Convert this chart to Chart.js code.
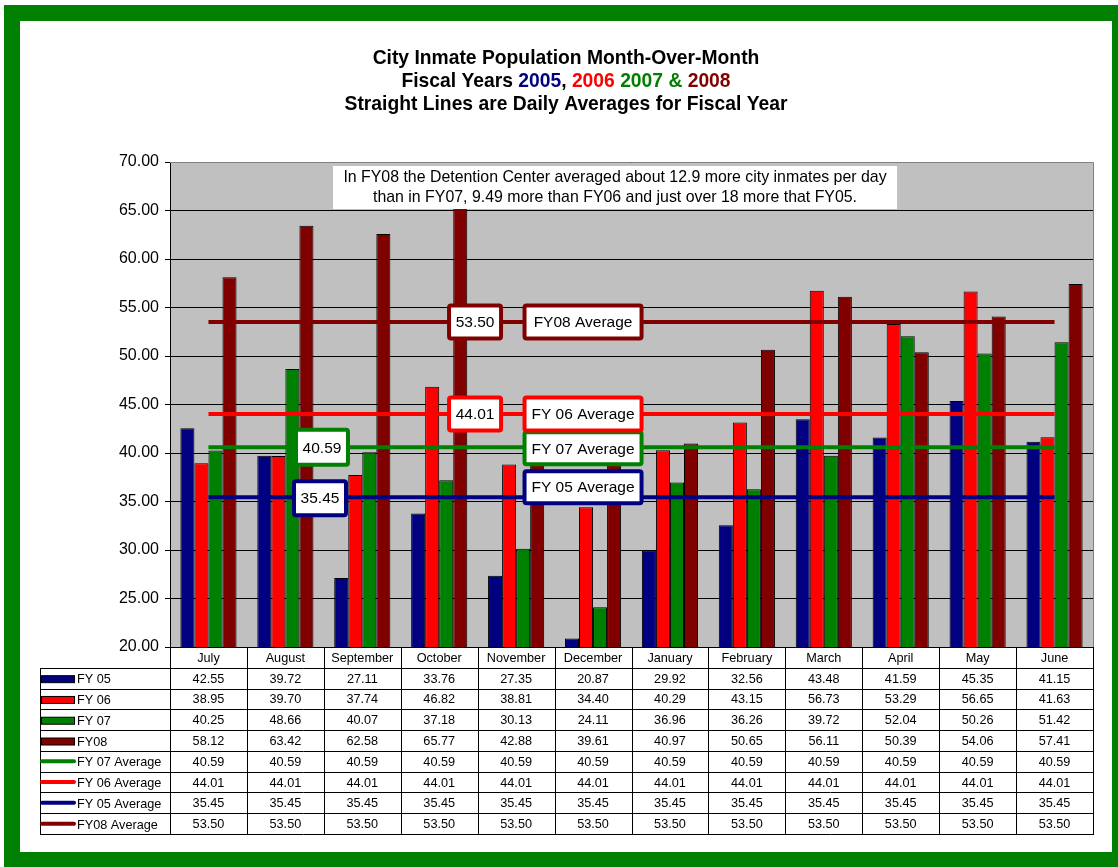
<!DOCTYPE html>
<html><head><meta charset="utf-8">
<script src="https://cdn.jsdelivr.net/npm/chart.js@4.4.0/dist/chart.umd.min.js"></script>
<style>html,body{margin:0;padding:0;background:#fff;overflow:hidden}#wrap{position:absolute;left:0;top:0;width:1118px;height:867px}</style>
</head><body><div id="wrap"><canvas id="c" width="1118" height="867"></canvas></div>
<script>
const months = ['July','August','September','October','November','December','January','February','March','April','May','June'];
const fy05 = [42.55,39.72,27.11,33.76,27.35,20.87,29.92,32.56,43.48,41.59,45.35,41.15];
const fy06 = [38.95,39.70,37.74,46.82,38.81,34.40,40.29,43.15,56.73,53.29,56.65,41.63];
const fy07 = [40.25,48.66,40.07,37.18,30.13,24.11,36.96,36.26,39.72,52.04,50.26,51.42];
const fy08 = [58.12,63.42,62.58,65.77,42.88,39.61,40.97,50.65,56.11,50.39,54.06,57.41];
const avg07 = [40.59,40.59,40.59,40.59,40.59,40.59,40.59,40.59,40.59,40.59,40.59,40.59];
const avg06 = [44.01,44.01,44.01,44.01,44.01,44.01,44.01,44.01,44.01,44.01,44.01,44.01];
const avg05 = [35.45,35.45,35.45,35.45,35.45,35.45,35.45,35.45,35.45,35.45,35.45,35.45];
const avg08 = [53.50,53.50,53.50,53.50,53.50,53.50,53.50,53.50,53.50,53.50,53.50,53.50];
const yTicks = {min:20, max:70, step:5};
const noteLines = ['In FY08 the Detention Center averaged about 12.9 more city inmates per day','than in FY07, 9.49 more than FY06 and just over 18 more that FY05.'];

const NAVY='#000080', RED='#ff0000', GREEN='#008000', MAROON='#800000';
const FONT='"Liberation Sans", Arial, Helvetica, sans-serif';

function barDs(label,data,color){return {type:'bar',label,data,backgroundColor:color,borderColor:'#000',borderWidth:1,borderSkipped:false,order:2,categoryPercentage:0.73,barPercentage:1};}
function lineDs(label,data,color){return {type:'line',label,data,borderColor:color,backgroundColor:color,borderWidth:4,pointRadius:0,fill:false,tension:0,order:1,isAvg:true};}

function drawBox(ctx,cx,cy,w,h,color,text){
  ctx.save();
  ctx.fillStyle='#fff';ctx.strokeStyle=color;ctx.lineWidth=4;
  ctx.beginPath();ctx.roundRect(cx-w/2+2,cy-h/2+2,w-4,h-4,2);ctx.fill();ctx.stroke();
  ctx.fillStyle='#000';ctx.font='15.5px '+FONT;ctx.textAlign='center';ctx.textBaseline='middle';
  ctx.fillText(text,cx,cy+1);
  ctx.restore();
}

const decor = {
  id:'decor',
  beforeDraw(chart){
    const ctx=chart.ctx,a=chart.chartArea;
    ctx.save();
    ctx.fillStyle='#fff';ctx.fillRect(0,0,1118,867);
    ctx.fillStyle=GREEN;ctx.fillRect(4,5,1120,870);
    ctx.fillStyle='#fff';ctx.fillRect(20,21,1092,831);
    ctx.fillStyle='#c0c0c0';ctx.fillRect(a.left,a.top,a.right-a.left,a.bottom-a.top);
    // title
    ctx.font='bold 19.3px '+FONT;ctx.textBaseline='middle';ctx.textAlign='center';ctx.fillStyle='#000';
    const cx=566;
    ctx.fillText('City Inmate Population Month-Over-Month',cx,59);
    const segs=[['Fiscal Years ','#000'],['2005',NAVY],[', ','#000'],['2006',RED],[' ','#000'],['2007 &',GREEN],[' 2008',MAROON]];
    let tot=segs.reduce((s,g)=>s+ctx.measureText(g[0]).width,0);
    let x=cx-tot/2;ctx.textAlign='left';
    for(const [t,c] of segs){ctx.fillStyle=c;ctx.fillText(t,x,82);x+=ctx.measureText(t).width;}
    ctx.textAlign='center';ctx.fillStyle='#000';
    ctx.fillText('Straight Lines are Daily Averages for Fiscal Year',cx,104.5);
    ctx.restore();
  },
  afterDatasetsDraw(chart){
    const ctx=chart.ctx,a=chart.chartArea,xs=chart.scales.x,ys=chart.scales.y;
    ctx.save();
    // note box
    ctx.fillStyle='#fff';ctx.fillRect(a.left+163,a.top+4,564,43);
    ctx.fillStyle='#000';ctx.font='15.9px '+FONT;ctx.textAlign='center';ctx.textBaseline='middle';
    ctx.fillText(noteLines[0],a.left+445,a.top+15.5);
    ctx.fillText(noteLines[1],a.left+445,a.top+35.5);
    ctx.restore();
    const lx=xs.getPixelForValue(4.87);
    // FY07
    drawBox(ctx,xs.getPixelForValue(1.476),ys.getPixelForValue(avg07[0]),56,39,GREEN,avg07[0].toFixed(2));
    drawBox(ctx,lx,ys.getPixelForValue(avg07[0])+1,121,36,GREEN,'FY 07 Average');
    // FY06
    drawBox(ctx,xs.getPixelForValue(3.466),ys.getPixelForValue(avg06[0]),56,37,RED,avg06[0].toFixed(2));
    drawBox(ctx,lx,ys.getPixelForValue(avg06[0]),121,37,RED,'FY 06 Average');
    // FY05
    drawBox(ctx,xs.getPixelForValue(1.45),ys.getPixelForValue(avg05[0])+1,56,38,NAVY,avg05[0].toFixed(2));
    drawBox(ctx,lx,ys.getPixelForValue(avg05[0])-10,121,36,NAVY,'FY 05 Average');
    // FY08
    drawBox(ctx,xs.getPixelForValue(3.466),ys.getPixelForValue(avg08[0]),56,37,MAROON,avg08[0].toFixed(2));
    drawBox(ctx,lx,ys.getPixelForValue(avg08[0]),121,37,MAROON,'FY08 Average');
  },
  afterDraw(chart){
    const ctx=chart.ctx,a=chart.chartArea;
    ctx.save();
    // plot border (top/right gray)
    ctx.strokeStyle='#808080';ctx.lineWidth=1;
    ctx.beginPath();ctx.moveTo(a.left,Math.round(a.top)+0.5);ctx.lineTo(Math.round(a.right)+0.5,Math.round(a.top)+0.5);ctx.lineTo(Math.round(a.right)+0.5,a.bottom);ctx.stroke();
    // data table
    const n=months.length,cw=(a.right-a.left)/n,rowH=20.78,top=a.bottom,left=40;
    const ds=chart.data.datasets,nR=ds.length,bot=top+rowH*(nR+1);
    ctx.strokeStyle='#000';
    ctx.beginPath();
    for(let r=1;r<=nR+1;r++){const y=Math.round(top+rowH*r)+0.5;ctx.moveTo(left,y);ctx.lineTo(Math.round(a.right)+1,y);}
    for(let i=0;i<=n;i++){const x=Math.round(a.left+cw*i)+0.5;ctx.moveTo(x,top);ctx.lineTo(x,Math.round(bot)+1);}
    ctx.moveTo(left+0.5,Math.round(top+rowH)+0.5);ctx.lineTo(left+0.5,Math.round(bot)+1);
    ctx.stroke();
    ctx.font='12.7px '+FONT;ctx.textBaseline='middle';ctx.fillStyle='#000';ctx.textAlign='center';
    for(let i=0;i<n;i++){ctx.fillText(months[i],a.left+cw*(i+0.5),top+rowH/2+1);}
    ds.forEach((d,r)=>{
      const cy=top+rowH*(r+1.5);
      for(let i=0;i<n;i++){ctx.fillStyle='#000';ctx.textAlign='center';ctx.fillText(d.data[i].toFixed(2),a.left+cw*(i+0.5),cy+1);}
      if(d.isAvg){
        ctx.strokeStyle=d.borderColor;ctx.lineWidth=4;ctx.lineCap='round';
        ctx.beginPath();ctx.moveTo(42,cy);ctx.lineTo(74,cy);ctx.stroke();ctx.lineCap='butt';ctx.lineWidth=1;
      }else{
        ctx.fillStyle=d.backgroundColor;ctx.fillRect(41.5,cy-2.5,33,7);
        ctx.strokeStyle='#000';ctx.lineWidth=1;ctx.strokeRect(41.5,cy-2.5,33,7);
      }
      ctx.fillStyle='#000';ctx.textAlign='left';ctx.fillText(d.label,77,cy+1.5);
    });
    ctx.restore();
  }
};

new Chart(document.getElementById('c'),{
  data:{labels:months,datasets:[
    barDs('FY 05',fy05,NAVY),barDs('FY 06',fy06,RED),barDs('FY 07',fy07,GREEN),barDs('FY08',fy08,MAROON),
    lineDs('FY 07 Average',avg07,GREEN),lineDs('FY 06 Average',avg06,RED),lineDs('FY 05 Average',avg05,NAVY),lineDs('FY08 Average',avg08,MAROON)
  ]},
  options:{
    responsive:false,animation:false,devicePixelRatio:1,events:[],
    layout:{padding:{top:162,bottom:220,right:25,left:0}},
    plugins:{legend:{display:false},title:{display:false},tooltip:{enabled:false}},
    scales:{
      x:{type:'category',display:false,offset:true},
      y:{min:yTicks.min,max:yTicks.max,
         afterFit(s){s.width=170;},
         ticks:{stepSize:yTicks.step,color:'#000',font:{family:FONT,size:16},padding:6,callback:v=>Number(v).toFixed(2)},
         grid:{color:'#000',lineWidth:1,tickLength:5,drawTicks:true},
         border:{display:true,color:'#000',width:1}}
    }
  },
  plugins:[decor]
});
</script></body></html>
